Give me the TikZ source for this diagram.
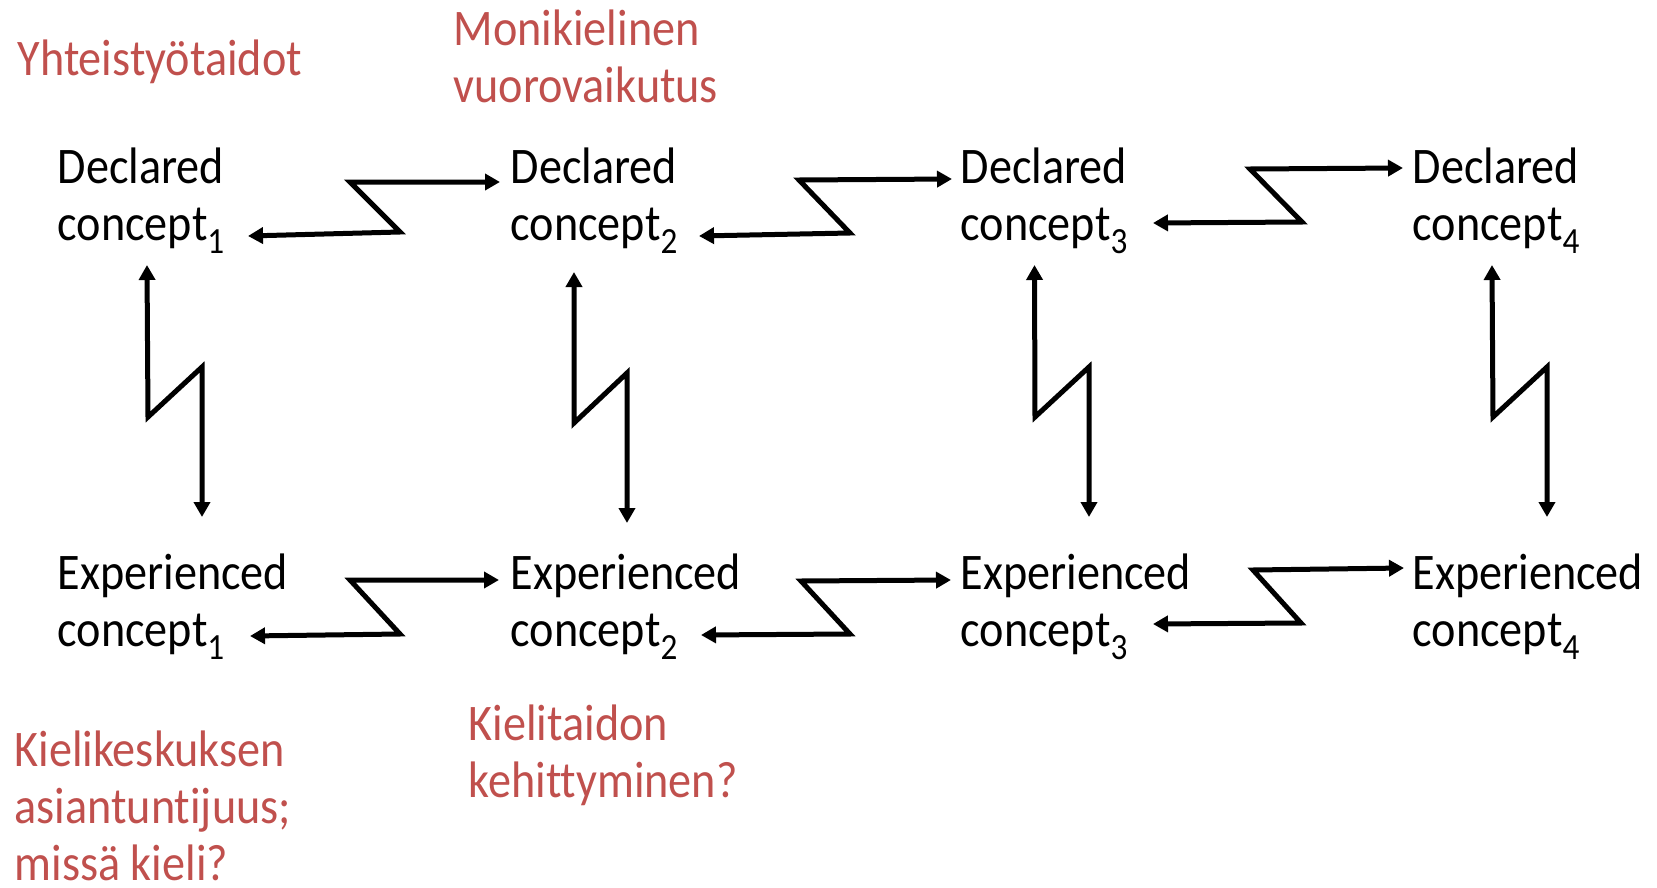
\documentclass[tikz,border=0pt]{standalone}
\usepackage{fontspec}
\setmainfont{Carlito}[FakeStretch=0.9,Ligatures=CommonOff]
\usetikzlibrary{arrows.meta}

\newcommand\csub[1]{\raisebox{-0.55ex}{\fontsize{10.5pt}{10.5pt}\selectfont#1}}

\begin{document}
\begin{tikzpicture}[x=0.1mm,y=-0.1mm,
    concept/.style={anchor=base west, inner sep=0pt, align=left,
      font=\fontsize{14.6pt}{16.2pt}\selectfont},
    note/.style={concept, text=kred},
    link/.style={{Triangle[length=1.5mm,width=1.6mm]}-{Triangle[length=1.5mm,width=1.6mm]},
      line width=0.5mm}]

\definecolor{kred}{RGB}{192,80,77}

\useasboundingbox (0,0) rectangle (1657,888);

\node[note] (yht) at (17,75) {Yhteistyötaidot};
\node[note] (moni) at (453,102) {Monikielinen\\vuorovaikutus};
\node[note] (kesk) at (14,880) {Kielikeskuksen\\asiantuntijuus;\\missä kieli?};
\node[note] (kieli) at (468,797) {Kielitaidon\\kehittyminen?};

\node[concept] (d1) at (57,240) {Declared\\concept\csub{1}};
\node[concept] (d2) at (510,240) {Declared\\concept\csub{2}};
\node[concept] (d3) at (960,240) {Declared\\concept\csub{3}};
\node[concept] (d4) at (1412,240) {Declared\\concept\csub{4}};

\node[concept] (e1) at (57,646) {Experienced\\concept\csub{1}};
\node[concept] (e2) at (510,646) {Experienced\\concept\csub{2}};
\node[concept] (e3) at (960,646) {Experienced\\concept\csub{3}};
\node[concept] (e4) at (1412,646) {Experienced\\concept\csub{4}};

% declared row
\draw[link] ([shift={(191,-4)}]d1.base west) -- ++(152,-4) -- ++(-50,-50) -- ([shift={(-10,-58)}]d2.base west);
\draw[link] ([shift={(189,-4)}]d2.base west) -- ++(151,-3) -- ++(-51,-53) -- ([shift={(-8,-61)}]d3.base west);
\draw[link] ([shift={(193,-17)}]d3.base west) -- ++(149,-1) -- ++(-52,-53) -- ([shift={(-9,-72)}]d4.base west);

% experienced row
\draw[link] ([shift={(193,-10)}]e1.base west) -- ++(150,-2) -- ++(-50,-54) -- ([shift={(-11,-66)}]e2.base west);
\draw[link] ([shift={(191,-11)}]e2.base west) -- ++(149,-1) -- ++(-49,-53) -- ([shift={(-9,-66)}]e3.base west);
\draw[link] ([shift={(193,-22)}]e3.base west) -- ++(148,-1) -- ++(-48,-53) -- ([shift={(-8,-78)}]e4.base west);

% declared <-> experienced
\draw[link] ([shift={(90,25)}]d1.base west) -- ++(1,152) -- ++(54,-50) -- ([shift={(145,-129)}]e1.base west);
\draw[link] ([shift={(64,32)}]d2.base west) -- ++(0,151) -- ++(53,-50) -- ([shift={(117,-123)}]e2.base west);
\draw[link] ([shift={(74.5,25)}]d3.base west) -- ++(0.5,152) -- ++(54,-50) -- ([shift={(129,-129)}]e3.base west);
\draw[link] ([shift={(80,25)}]d4.base west) -- ++(1,152) -- ++(54,-50) -- ([shift={(135,-129)}]e4.base west);

\end{tikzpicture}
\end{document}
